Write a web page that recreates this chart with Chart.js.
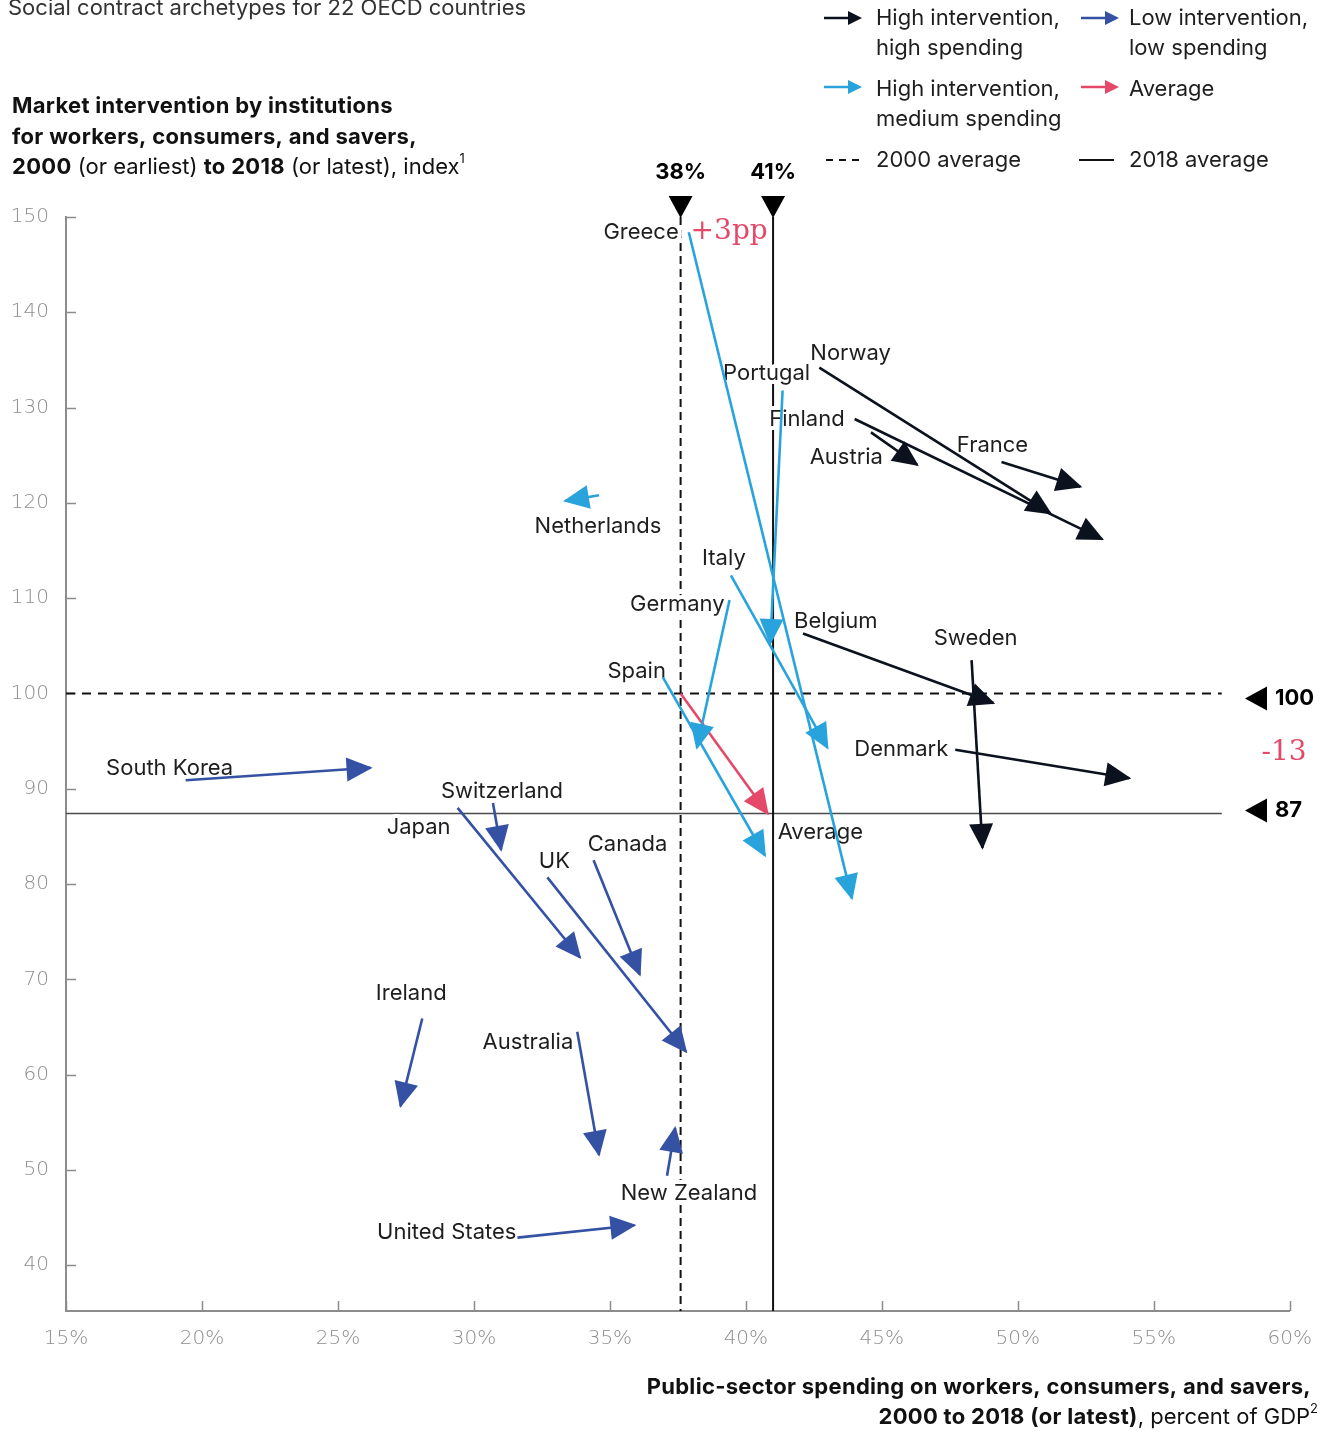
<!DOCTYPE html>
<html>
<head>
<meta charset="utf-8">
<script src="https://cdn.jsdelivr.net/npm/chart.js@4.4.1/dist/chart.umd.min.js"></script>
<style>
body{margin:0;background:#fff;}
#wrap{position:relative;width:1328px;height:1434px;}
</style>
</head>
<body>
<div id="wrap"><canvas id="myChart" width="1328" height="1434"></canvas></div>
<script>
// social contract archetypes, 2000 -> 2018
const countries = ['Greece','Portugal','Norway','Finland','Austria','France','Netherlands','Italy','Germany','Spain','Belgium','Sweden','Denmark','South Korea','Switzerland','Japan','UK','Canada','Ireland','Australia','New Zealand','United States','Average'];
const archetype = ['medium','medium','high','high','high','high','medium','medium','medium','medium','high','high','high','low','low','low','low','low','low','low','low','low','avg'];
const spending2000 = [37.9, 41.35, 42.7, 44.0, 44.6, 49.4, 34.6, 39.45, 39.4, 36.95, 42.1, 48.3, 47.7, 19.4, 30.7, 29.4, 32.7, 34.4, 28.1, 33.8, 37.1, 31.6, 37.6];
const spending2018 = [43.9, 40.9, 51.2, 53.1, 46.3, 52.3, 33.35, 43.0, 38.2, 40.7, 49.1, 48.7, 54.1, 26.2, 31.0, 33.9, 37.8, 36.1, 27.3, 34.6, 37.4, 35.9, 40.8];
const index2000 = [148.4, 131.8, 134.2, 128.8, 127.4, 124.3, 120.8, 112.4, 109.8, 101.7, 106.3, 103.5, 94.1, 90.9, 88.5, 88.0, 80.7, 82.5, 65.9, 64.5, 49.4, 42.9, 100];
const index2018 = [78.5, 105.3, 118.9, 116.2, 124.0, 121.7, 120.2, 94.3, 94.3, 83.0, 99.0, 83.8, 91.1, 92.2, 83.6, 72.3, 62.4, 70.5, 56.7, 51.6, 54.4, 44.2, 87.4];

// averages: [2000, 2018]
const avgSpending = [37.6, 41.0];
const avgIndex = [100, 87.4];

const xTicks = [15, 20, 25, 30, 35, 40, 45, 50, 55, 60];
const yTicks = [40, 50, 60, 70, 80, 90, 100, 110, 120, 130, 140, 150];

const colors = {high: '#0b121e', medium: '#29a3dc', low: '#3451a3', avg: '#e4496a'};
const pink = '#e4496a';
const FONT = '"Inter", "Liberation Sans", sans-serif';
const SERIF = '"DejaVu Serif", serif';

// where each country name sits, relative to the arrow tail (or head for 'end')
const labelPos = {
	'Greece': ['right', -10, 0],
	'Portugal': ['center', -16, -17],
	'Norway': ['left', -9, -14],
	'Finland': ['right', -10, 0],
	'Austria': ['right', 12, 25],
	'France': ['center', -9, -17],
	'Netherlands': ['center', -1, 31],
	'Italy': ['center', -7, -17],
	'Germany': ['right', -5, 4],
	'Spain': ['right', 3, -6],
	'Belgium': ['left', -9, -12],
	'Sweden': ['center', 4, -22],
	'Denmark': ['right', -7, 0],
	'South Korea': ['center', -16, -12],
	'Switzerland': ['center', 9, -12],
	'Japan': ['right', -7, 20],
	'UK': ['center', 7, -16],
	'Canada': ['center', 34, -16],
	'Ireland': ['center', -11, -25],
	'Australia': ['right', -4, 11],
	'New Zealand': ['center', 22, 18],
	'United States': ['right', -1, -5],
	'Average': ['left', 10, 19, 'end']
};

function setFont(ctx, p, size) {
	if (p.sup) {
		ctx.font = 'normal ' + Math.round(size * 0.6) + 'px ' + FONT;
		ctx.letterSpacing = '0px';
	} else {
		ctx.font = (p.b ? 'bold ' : 'normal ') + size + 'px ' + FONT;
		ctx.letterSpacing = p.b ? '0.3px' : '0px';
	}
}

function drawRich(ctx, parts, x, y, align, size) {
	let widths = parts.map(p => {
		setFont(ctx, p, size);
		return ctx.measureText(p.t).width;
	});
	let total = widths.reduce((a, b) => a + b, 0);
	let cx = align === 'right' ? x - total : x;
	ctx.textAlign = 'left';
	parts.forEach((p, i) => {
		setFont(ctx, p, size);
		ctx.fillText(p.t, cx, p.sup ? y - size * 0.35 : y);
		cx += widths[i];
	});
	ctx.letterSpacing = '0px';
}

function triangle(ctx, tipX, tipY, angle, len, half) {
	let bx = tipX - Math.cos(angle) * len, by = tipY - Math.sin(angle) * len;
	let nx = -Math.sin(angle) * half, ny = Math.cos(angle) * half;
	ctx.beginPath();
	ctx.moveTo(tipX, tipY);
	ctx.lineTo(bx + nx, by + ny);
	ctx.lineTo(bx - nx, by - ny);
	ctx.closePath();
	ctx.fill();
}

const decor = {
	id: 'decor',
	beforeDatasetsDraw(chart) {
		const ctx = chart.ctx, xs = chart.scales.x, ys = chart.scales.y;
		ctx.save();
		// tick marks pointing into the plot
		ctx.strokeStyle = '#8c8c8c';
		ctx.lineWidth = 1.5;
		yTicks.forEach(v => {
			let py = Math.round(ys.getPixelForValue(v)) + 0.5;
			ctx.beginPath(); ctx.moveTo(xs.left, py); ctx.lineTo(xs.left + 10, py); ctx.stroke();
		});
		xTicks.forEach(v => {
			let px = Math.round(xs.getPixelForValue(v)) + 0.5;
			ctx.beginPath(); ctx.moveTo(px, ys.bottom); ctx.lineTo(px, ys.bottom - 10); ctx.stroke();
		});

		// 2000 average (dashed) and 2018 average (solid)
		const xEnd = xs.getPixelForValue(57.5);
		ctx.strokeStyle = '#111';
		ctx.lineWidth = 2;
		ctx.setLineDash([9, 7]);
		let hy = ys.getPixelForValue(avgIndex[0]);
		ctx.beginPath(); ctx.moveTo(xs.left, hy); ctx.lineTo(xEnd, hy); ctx.stroke();
		ctx.setLineDash([8, 5]);
		let vx = xs.getPixelForValue(avgSpending[0]);
		ctx.beginPath(); ctx.moveTo(vx, ys.top); ctx.lineTo(vx, ys.bottom); ctx.stroke();
		ctx.setLineDash([]);
		ctx.strokeStyle = '#4a4a4a';
		ctx.lineWidth = 1.5;
		hy = ys.getPixelForValue(avgIndex[1]);
		ctx.beginPath(); ctx.moveTo(xs.left, hy); ctx.lineTo(xEnd, hy); ctx.stroke();
		ctx.strokeStyle = '#111';
		ctx.lineWidth = 2;
		vx = xs.getPixelForValue(avgSpending[1]);
		ctx.beginPath(); ctx.moveTo(vx, ys.top); ctx.lineTo(vx, ys.bottom); ctx.stroke();

		// country names with a white halo
		ctx.font = '22px ' + FONT;
		ctx.textBaseline = 'middle';
		ctx.lineJoin = 'round';
		countries.forEach((name, i) => {
			let pos = labelPos[name];
			let atEnd = pos[3] === 'end';
			let px = xs.getPixelForValue(atEnd ? spending2018[i] : spending2000[i]) + pos[1];
			let py = ys.getPixelForValue(atEnd ? index2018[i] : index2000[i]) + pos[2];
			ctx.textAlign = pos[0];
			ctx.strokeStyle = '#fff';
			ctx.lineWidth = 8;
			ctx.strokeText(name, px, py);
			ctx.fillStyle = '#1e1e1e';
			ctx.fillText(name, px, py);
		});
		ctx.restore();
	},
	afterDatasetsDraw(chart) {
		const ctx = chart.ctx;
		ctx.save();
		chart.data.datasets.forEach((ds, i) => {
			const pts = chart.getDatasetMeta(i).data;
			const a = pts[0], b = pts[1];
			const ang = Math.atan2(b.y - a.y, b.x - a.x);
			ctx.fillStyle = ds.borderColor;
			triangle(ctx, b.x + Math.cos(ang) * 2, b.y + Math.sin(ang) * 2, ang, 26, 12);
		});
		ctx.restore();
	},
	afterDraw(chart) {
		const ctx = chart.ctx, xs = chart.scales.x, ys = chart.scales.y;
		ctx.save();

		ctx.fillStyle = '#333';
		ctx.font = '22px ' + FONT;
		ctx.textAlign = 'left';
		ctx.textBaseline = 'alphabetic';
		ctx.fillText('Social contract archetypes for 22 OECD countries', 8, 15);

		// y axis title
		ctx.fillStyle = '#111';
		ctx.textBaseline = 'middle';
		drawRich(ctx, [{t: 'Market intervention by institutions', b: true}], 12, 106, 'left', 22);
		drawRich(ctx, [{t: 'for workers, consumers, and savers,', b: true}], 12, 137, 'left', 22);
		drawRich(ctx, [{t: '2000', b: true}, {t: ' (or earliest) '}, {t: 'to 2018', b: true}, {t: ' (or latest), index'}, {t: '1', sup: true}], 12, 167, 'left', 22);

		// x axis title
		drawRich(ctx, [{t: 'Public-sector spending on workers, consumers, and savers,', b: true}], 1311, 1387, 'right', 22);
		drawRich(ctx, [{t: '2000 to 2018 (or latest)', b: true}, {t: ', percent of GDP'}, {t: '2', sup: true}], 1318, 1417, 'right', 22);

		// average markers on top
		ctx.fillStyle = '#000';
		ctx.font = 'bold 22px ' + FONT;
		ctx.textAlign = 'center';
		avgSpending.forEach(v => {
			let px = xs.getPixelForValue(v);
			ctx.fillText(Math.round(v) + '%', px, 172);
			triangle(ctx, px, ys.top + 1, Math.PI / 2, 22, 12);
		});
		ctx.fillStyle = pink;
		ctx.font = '28px ' + SERIF;
		ctx.textAlign = 'left';
		ctx.fillText('+' + (Math.round(avgSpending[1]) - Math.round(avgSpending[0])) + 'pp', xs.getPixelForValue(avgSpending[0]) + 10, 232);

		// average markers on the right
		[5, -3].forEach((off, k) => {
			let v = avgIndex[k];
			let py = ys.getPixelForValue(v) + off;
			ctx.fillStyle = '#000';
			triangle(ctx, 1245, py, Math.PI, 22, 12);
			ctx.font = 'bold 22px ' + FONT;
			ctx.textAlign = 'left';
			ctx.fillText(String(Math.round(v)), 1275, py);
		});
		ctx.fillStyle = pink;
		ctx.font = '28px ' + SERIF;
		ctx.textAlign = 'center';
		ctx.fillText('-' + Math.round(avgIndex[0] - avgIndex[1]), 1284, 753);

		// legend
		const legendArrow = (x, y, c) => {
			ctx.strokeStyle = c; ctx.fillStyle = c; ctx.lineWidth = 2.5;
			ctx.beginPath(); ctx.moveTo(x, y); ctx.lineTo(x + 28, y); ctx.stroke();
			triangle(ctx, x + 38, y, 0, 14, 7);
		};
		legendArrow(824, 18, colors.high);
		legendArrow(1081, 18, colors.low);
		legendArrow(824, 87, colors.medium);
		legendArrow(1081, 87, colors.avg);
		ctx.strokeStyle = '#111'; ctx.lineWidth = 2;
		ctx.setLineDash([7, 6]);
		ctx.beginPath(); ctx.moveTo(826, 160); ctx.lineTo(862, 160); ctx.stroke();
		ctx.setLineDash([]);
		ctx.beginPath(); ctx.moveTo(1079, 160); ctx.lineTo(1114, 160); ctx.stroke();
		ctx.fillStyle = '#1e1e1e';
		ctx.font = '22px ' + FONT;
		ctx.textAlign = 'left';
		[['High intervention,', 876, 18], ['high spending', 876, 48], ['Low intervention,', 1129, 18], ['low spending', 1129, 48],
		 ['High intervention,', 876, 89], ['medium spending', 876, 119], ['Average', 1129, 89],
		 ['2000 average', 876, 160], ['2018 average', 1129, 160]].forEach(r => ctx.fillText(r[0], r[1], r[2]));
		ctx.restore();
	}
};

function renderChart() {
	const ctx = document.getElementById('myChart').getContext('2d');
	let datasets = countries.map((name, i) => ({
		label: name,
		data: [{x: spending2000[i], y: index2000[i]}, {x: spending2018[i], y: index2018[i]}],
		borderColor: colors[archetype[i]],
		backgroundColor: colors[archetype[i]],
		borderWidth: 2.6,
		showLine: true,
		pointRadius: 0,
		fill: false
	}));
	const tickFont = {family: '"DejaVu Sans", sans-serif', size: 20, weight: 200};
	new Chart(ctx, {
		type: 'scatter',
		data: {datasets: datasets},
		options: {
			responsive: false,
			animation: false,
			layout: {padding: {top: 217, right: 36, left: 0, bottom: 0}},
			plugins: {legend: {display: false}, tooltip: {enabled: false}},
			scales: {
				x: {
					type: 'linear', min: 15, max: 60,
					afterBuildTicks: s => { s.ticks = xTicks.map(v => ({value: v})); },
					afterFit: s => { s.height = 123; },
					grid: {display: false, drawTicks: false},
					border: {display: true, color: '#8c8c8c', width: 2},
					ticks: {padding: 16, color: '#8e8e8e', font: tickFont, maxRotation: 0, autoSkip: false, callback: v => v + '%'}
				},
				y: {
					type: 'linear', min: 35.2, max: 150,
					afterBuildTicks: s => { s.ticks = yTicks.map(v => ({value: v})); },
					afterFit: s => { s.width = 66; },
					grid: {display: false, drawTicks: false},
					border: {display: true, color: '#8c8c8c', width: 2},
					ticks: {padding: 17, color: '#8e8e8e', font: tickFont, autoSkip: false}
				}
			}
		},
		plugins: [decor]
	});
}
renderChart();
</script>
</body>
</html>
